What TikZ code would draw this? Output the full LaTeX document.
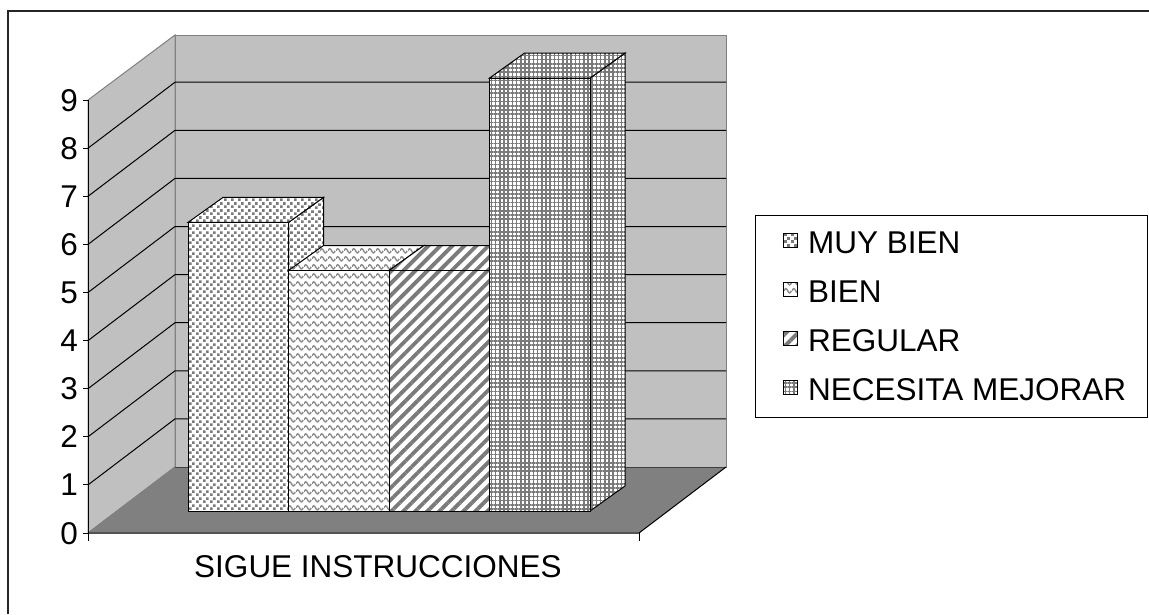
\documentclass[tikz,border=0pt]{standalone}
\usepackage{fontspec}
\setmainfont{Liberation Sans}
\usepackage{tikz}
\usetikzlibrary{patterns.meta}

\definecolor{pared}{HTML}{C0C0C0}
\definecolor{piso}{HTML}{808080}
\definecolor{trama}{HTML}{7A7A7A}

% tramas de las barras
\tikzdeclarepattern{name=puntos, type=uncolored,
  bottom left={(0pt,0pt)}, top right={(7pt,7pt)}, tile size={(7pt,7pt)},
  code={\tikzset{x=1pt,y=1pt}
    \fill (0,0) rectangle (3,3);
    \fill (3.5,3.5) rectangle (6.5,6.5);}}
\tikzdeclarepattern{name=ondas, type=uncolored,
  bottom left={(0pt,0pt)}, top right={(8pt,8pt)}, tile size={(8pt,8pt)},
  code={\tikzset{x=1pt,y=1pt}
    \draw[line width=1.6pt] (0,3.5) sin (2,5.8) cos (4,3.5) sin (6,1.2) cos (8,3.5);}}

\tikzset{
  etiqueta/.style={font=\fontsize{31.5}{37}\selectfont, inner sep=0pt},
  linea/.style={black, line width=1pt},
  barra/.style={draw=black, line width=1pt, preaction={fill=white}},
  muybien/.style={pattern=puntos, pattern color=trama},
  bien/.style={pattern=ondas, pattern color=trama!85},
  regular/.style={pattern={Lines[angle=45,distance=8.5pt,line width=3.8pt]}, pattern color=trama},
  mejorar/.style={pattern={Hatch[angle=0,distance=4.2pt,line width=1.5pt]}, pattern color=trama},
}

\begin{document}
\begin{tikzpicture}[x=1pt,y=-1pt]
  \useasboundingbox (0,0) rectangle (1149,614);
  \fill[white] (0,0) rectangle (1149,614);
  % marco
  \draw[line width=1.5pt, black!85] (8,614) -- (8,11) -- (1149,11);

  % paredes y piso
  \filldraw[fill=pared, draw=gray, line width=1pt] (175,35) rectangle (726,467);
  \filldraw[fill=pared, draw=gray, line width=1pt] (88,533) -- (88,100) -- (175,35) -- (175,467) -- cycle;
  \fill[piso] (88,533) -- (639,533) -- (726,467) -- (175,467) -- cycle;
  \draw[linea, black!75] (175,467) -- (726,467);
  \draw[gray, line width=1pt] (88,533) -- (175,467);
  \draw[linea] (88,533) -- (639,533) -- (726,467);
  \foreach \k in {1,...,8} {
    \draw[linea] (88,533-48.1*\k) -- (175,467-48.1*\k) -- (726,467-48.1*\k);
  }

  % eje vertical
  \draw[linea] (88,100) -- (88,541);
  \foreach \k in {0,...,9} {
    \draw[linea] (83,533-48.1*\k) -- (88,533-48.1*\k);
    \node[etiqueta, anchor=base east] (e\k) at (78,544-48.1*\k) {\k};
  }
  \draw[linea] (639,533) -- (639,541);
  \node[etiqueta, anchor=base] (cat) at (378,577) {SIGUE INSTRUCCIONES};

  % barras
  \foreach \i/\v/\st in {0/6/muybien, 1/5/bien, 2/5/regular, 3/9/mejorar} {
    \pgfmathsetmacro\xa{188+100.5*\i}
    \pgfmathsetmacro\xb{\xa+100.5}
    \pgfmathsetmacro\yt{511-48.1*\v}
    \filldraw[barra,\st] (\xb,511) -- (\xb+35,486) -- (\xb+35,\yt-25) -- (\xb,\yt) -- cycle;
    \filldraw[barra,\st] (\xa,\yt) -- (\xa+35,\yt-25) -- (\xb+35,\yt-25) -- (\xb,\yt) -- cycle;
    \filldraw[barra,\st] (\xa,511) rectangle (\xb,\yt);
  }

  % leyenda
  \draw[linea, fill=white] (755,215) rectangle (1147,417);
  \foreach \i/\txt/\st in {0/MUY BIEN/muybien, 1/BIEN/bien, 2/REGULAR/regular, 3/NECESITA MEJORAR/mejorar} {
    \pgfmathsetmacro\yb{253.5+48.9*\i}
    \filldraw[barra,\st, line width=0.8pt] (783,\yb-20) rectangle (797,\yb-6);
    \node[etiqueta, anchor=base west] (ley\i) at (808,\yb) {\txt};
  }
\end{tikzpicture}
\end{document}
